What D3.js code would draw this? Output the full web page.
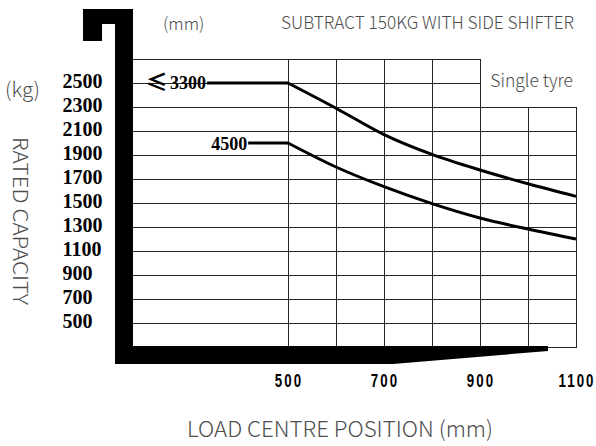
<!DOCTYPE html>
<html>
<head>
<meta charset="utf-8">
<script src="https://cdn.jsdelivr.net/npm/d3@7"></script>
<style>
  html, body { margin: 0; padding: 0; background: #fff; }
  svg { display: block; }
</style>
</head>
<body>
<svg id="chart" width="596" height="446"></svg>
<script>
// ---------------- data ----------------
const loadCentres = [500, 600, 700, 800, 900, 1000, 1100];      // mm
const capLow  = [2500, 2290, 2070, 1905, 1775, 1660, 1555];        // kg, lift height <=3300
const capHigh = [2000, 1800, 1636, 1495, 1375, 1283, 1200];        // kg, lift height 4500
const seriesLabels = ["≤3300", "4500"];
const seriesFlatStart = [331, 417];                                // mm where the flat part begins
const yTicks = [2500, 2300, 2100, 1900, 1700, 1500, 1300, 1100, 900, 700, 500];
const xTicks = [500, 700, 900, 1100];
const gridX = [500, 600, 700, 800, 900, 1000, 1100];
const gridY = [2700, 2500, 2300, 2100, 1900, 1700, 1500, 1300, 1100, 900, 700, 500, 300];

// ---------------- scales ----------------
const svg = d3.select("#chart");
const x = d3.scaleLinear().domain([500, 1100]).range([288, 576]);
const y = d3.scaleLinear().domain([300, 2700]).range([347, 59]);
const xLeftMm = x.invert(133);

const lightFont = "'Noto Sans CJK SC Light', 'Noto Sans CJK SC', 'Noto Sans', sans-serif";
const textCol = "#4d4d4d";

// ---------------- grid ----------------
const grid = svg.append("g").attr("stroke", "#262626").attr("stroke-width", 1).attr("shape-rendering", "crispEdges");
gridY.forEach(v => {
  const xEnd = v > 2300 ? x(900) : x(1100);
  grid.append("line")
    .attr("x1", x(xLeftMm)).attr("x2", xEnd + 0.5)
    .attr("y1", Math.round(y(v)) + 0.5).attr("y2", Math.round(y(v)) + 0.5);
});
gridX.forEach(v => {
  const yTop = v > 900 ? y(2300) : y(2700);
  grid.append("line")
    .attr("x1", Math.round(x(v)) + 0.5).attr("x2", Math.round(x(v)) + 0.5)
    .attr("y1", yTop).attr("y2", y(300));
});

// ---------------- forklift silhouette (mast + fork) ----------------
const mastPts = [
  [83, 9], [133, 9], [133, 346], [548, 346], [548, 351], [393, 364],
  [115, 364], [115, 24], [102, 24], [102, 41], [83, 41]
];
svg.append("path")
  .attr("d", d3.line()(mastPts) + "Z")
  .attr("fill", "#000");

// ---------------- curves ----------------
const series = [capLow, capHigh];
series.forEach((vals, i) => {
  const pts = loadCentres.map((c, j) => [c, vals[j]]);
  svg.append("line")
    .attr("x1", x(seriesFlatStart[i])).attr("x2", x(500))
    .attr("y1", y(vals[0])).attr("y2", y(vals[0]))
    .attr("stroke", "#000").attr("stroke-width", 3);
  svg.append("path")
    .datum(pts)
    .attr("fill", "none")
    .attr("stroke", "#000")
    .attr("stroke-width", 3)
    .attr("d", d3.line().x(d => x(d[0])).y(d => y(d[1])).curve(d3.curveMonotoneX));
});

// series labels
const lab0 = svg.append("text")
  .attr("x", x(seriesFlatStart[0]) - 1).attr("y", y(capLow[0]) + 6)
  .attr("text-anchor", "end")
  .attr("font-family", "'Liberation Serif', serif").attr("font-weight", "bold")
  .attr("font-size", 18).attr("fill", "#000");
lab0.append("tspan").attr("font-family", "'Noto Sans CJK SC', sans-serif").attr("font-weight", "bold")
  .attr("font-size", 22).attr("dy", 1).text(seriesLabels[0].slice(0, 1));
lab0.append("tspan").attr("dy", -1).attr("dx", 2).text(seriesLabels[0].slice(1));

svg.append("text")
  .attr("x", x(seriesFlatStart[1]) - 1).attr("y", y(capHigh[0]) + 7)
  .attr("text-anchor", "end")
  .attr("font-family", "'Liberation Serif', serif").attr("font-weight", "bold")
  .attr("font-size", 18).attr("fill", "#000")
  .text(seriesLabels[1]);

// ---------------- axis tick labels ----------------
svg.append("g").selectAll("text").data(yTicks).join("text")
  .attr("x", 62.5).attr("y", d => y(d) + 5)
  .attr("font-family", "'Liberation Serif', serif").attr("font-weight", "bold")
  .attr("font-size", 20).attr("fill", "#000")
  .text(d => d);

svg.append("g").selectAll("text").data(xTicks).join("text")
  .attr("transform", d => `translate(${x(d) + 1},387) scale(0.7,1)`)
  .attr("text-anchor", "middle")
  .attr("font-family", "'Liberation Sans', sans-serif").attr("font-weight", "bold")
  .attr("font-size", 19).attr("letter-spacing", 3).attr("fill", "#000")
  .text(d => d);

// ---------------- titles / annotations ----------------
svg.append("text").attr("x", 163).attr("y", 30)
  .attr("font-family", lightFont).attr("font-weight", 300)
  .attr("font-size", 17).attr("fill", textCol).text("(mm)");

svg.append("text").attr("x", 281).attr("y", 29)
  .attr("font-family", lightFont).attr("font-weight", 300)
  .attr("font-size", 18).attr("fill", textCol)
  .attr("textLength", 293).attr("lengthAdjust", "spacingAndGlyphs")
  .text("SUBTRACT 150KG WITH SIDE SHIFTER");

svg.append("text").attr("x", 573).attr("y", 87)
  .attr("text-anchor", "end")
  .attr("font-family", lightFont).attr("font-weight", 300)
  .attr("font-size", 17.5).attr("fill", textCol).text("Single tyre");

svg.append("text").attr("x", 5).attr("y", 97)
  .attr("font-family", lightFont).attr("font-weight", 300)
  .attr("font-size", 20.5).attr("fill", textCol).text("(kg)");

svg.append("text")
  .attr("transform", "translate(13,221) rotate(90)")
  .attr("text-anchor", "middle")
  .attr("font-family", lightFont).attr("font-weight", 300)
  .attr("font-size", 20).attr("fill", textCol)
  .attr("textLength", 168).attr("lengthAdjust", "spacingAndGlyphs")
  .text("RATED CAPACITY");

svg.append("text").attr("x", 340).attr("y", 437)
  .attr("text-anchor", "middle")
  .attr("font-family", lightFont).attr("font-weight", 300)
  .attr("font-size", 22).attr("fill", textCol)
  .attr("textLength", 306).attr("lengthAdjust", "spacingAndGlyphs")
  .text("LOAD CENTRE POSITION (mm)");
</script>
</body>
</html>
